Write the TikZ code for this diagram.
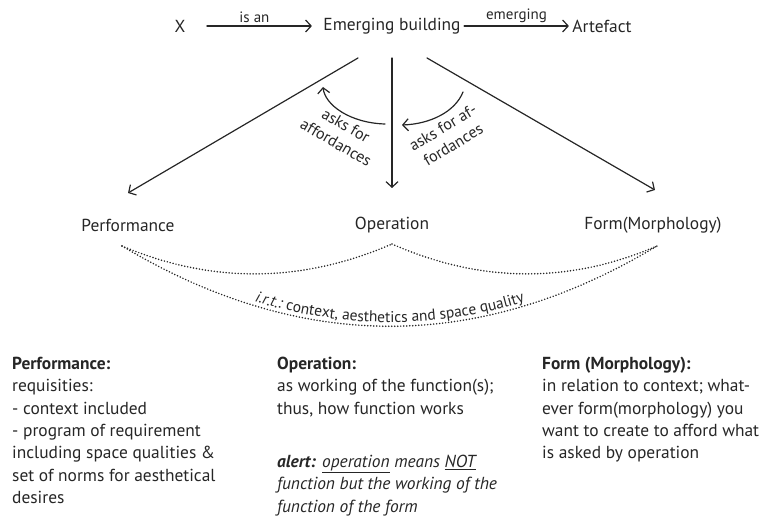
\documentclass[tikz,border=0pt]{standalone}
\usepackage{fontspec}
\setmainfont{PT Sans}
\usetikzlibrary{arrows.meta,decorations.text}

\begin{document}
\begin{tikzpicture}[x=1pt,y=-1pt,font=\fontsize{17.4}{22}\selectfont,line join=round,line cap=round,
    >={Straight Barb[length=5.5pt,width=12pt]},
    every node/.style={text=black!85},
    arr/.style={->,line width=1.2pt,black!85},
    dots/.style={line width=1.7pt,dash pattern=on 0pt off 3pt,black!85},
    small/.style={font=\fontsize{15}{17}\selectfont},
    asks/.style={align=center,font=\fontsize{16}{20}\selectfont},
    desc/.style={anchor=north west,align=left,inner sep=0pt,font=\fontsize{17.4}{22.3}\selectfont}]
\useasboundingbox (0,0) rectangle (764,518);
% top row
\node (X) at (180,26) {X};
\node (EB) at (392,26) {Emerging building};
\node (Art) at (602,26) {Artefact};
\draw[arr,shorten <=18pt,shorten >=8pt] (X) -- node[small,above=-1pt] (isan) {is an} (EB);
\draw[arr] (EB) -- node[small,above=-1pt] (emer) {emerging} (Art);
% the three aspects
\node (Perf) at (128,225) {Performance};
\node (Op) at (392,225) {Operation};
\node (Form) at (653,225) {Form(Morphology)};
\coordinate (e1) at (358,58);
\coordinate (e2) at (392,58);
\coordinate (e3) at (427,58);
\coordinate (p1) at (128,193);
\coordinate (p2) at (392,188);
\coordinate (p3) at (655,190);
\draw[arr] (e1) -- (p1);
\draw[arr] (e2) -- (p2);
\draw[arr] (e3) -- (p3);
% asks for affordances
\coordinate (a1) at (385,124);
\coordinate (a2) at (323,87);
\coordinate (b1) at (463,92);
\coordinate (b2) at (402,125);
\draw[arr] (a1) .. controls (350,123) and (325,105) .. (a2);
\draw[arr] (b1) .. controls (455,112) and (430,124) .. (b2);
\node[asks,rotate=-30] (askl) at (341,134) {asks for\\affordances};
\node[asks,rotate=31] (askr) at (448,136) {asks for af-\\fordances};
% dotted relations
\coordinate (d1) at (122,246);
\coordinate (d2) at (392,244);
\coordinate (d3) at (657,246);
\draw[dots] (d1) .. controls (212,284) and (302,283) .. (d2);
\draw[dots] (d2) .. controls (480,283) and (569,284) .. (d3);
\draw[dots] (d1) .. controls (301,353) and (479,353) .. (d3);
\path[decorate,decoration={text along path,text align=center,raise=4pt,
    text={|\fontsize{15.5}{17}\selectfont\itshape\color{black!85}|i.r.t.:|\fontsize{15.5}{17}\selectfont\color{black!85}| context, aesthetics and space quality}}]
  (d1) .. controls (301,353) and (479,353) .. (d3);
% descriptions
\node[desc] (PerfD) at (12,357) {\textbf{Performance:}\\requisities:\\- context included\\- program of requirement\\including space qualities \&\\set of norms for aesthetical\\desires};
\node[desc] (OpD) at (277,357) {\textbf{Operation:}\\as working of the function(s);\\thus, how function works};
\node[desc] (Alert) at (277,455) {\textbf{\textit{alert:}} \textit{\underline{operation} means \underline{NOT}}\\\textit{function but the working of the}\\\textit{function of the form}};
\node[desc] (FormD) at (542,357) {\textbf{Form (Morphology):}\\in relation to context; what-\\ever form(morphology) you\\want to create to afford what\\is asked by operation};
\end{tikzpicture}
\end{document}
